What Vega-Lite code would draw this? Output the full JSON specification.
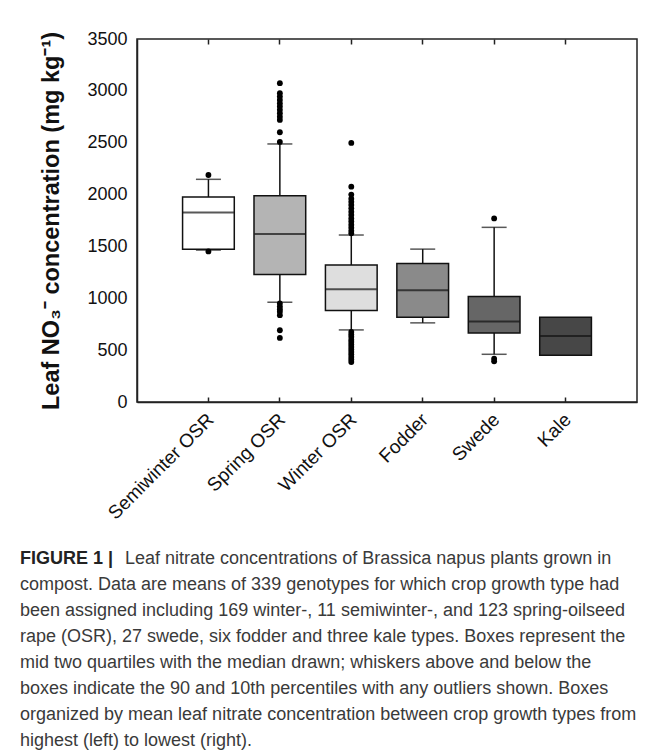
{
  "$schema": "https://vega.github.io/schema/vega-lite/v6.json",
  "width": 500,
  "height": 363,
  "autosize": "none",
  "padding": {"left": 137, "top": 39, "right": 18, "bottom": 352},
  "background": "white",
  "datasets": {
    "boxes": [
      {"type": "Semiwinter OSR", "lower": 1465, "q1": 1474, "median": 1828, "q3": 1976, "upper": 2147},
      {"type": "Spring OSR", "lower": 962, "q1": 1230, "median": 1619, "q3": 1989, "upper": 2488},
      {"type": "Winter OSR", "lower": 695, "q1": 882, "median": 1088, "q3": 1320, "upper": 1610},
      {"type": "Fodder", "lower": 763, "q1": 818, "median": 1078, "q3": 1336, "upper": 1474},
      {"type": "Swede", "lower": 460, "q1": 666, "median": 776, "q3": 1017, "upper": 1684},
      {"type": "Kale", "lower": null, "q1": 451, "median": 637, "q3": 818, "upper": null}
    ],
    "outliers": [
      {"type": "Semiwinter OSR", "value": 2189},
      {"type": "Semiwinter OSR", "value": 1452},
      {"type": "Spring OSR", "value": 3074},
      {"type": "Spring OSR", "value": 2978},
      {"type": "Spring OSR", "value": 2945},
      {"type": "Spring OSR", "value": 2913},
      {"type": "Spring OSR", "value": 2880},
      {"type": "Spring OSR", "value": 2850},
      {"type": "Spring OSR", "value": 2817},
      {"type": "Spring OSR", "value": 2785},
      {"type": "Spring OSR", "value": 2750},
      {"type": "Spring OSR", "value": 2720},
      {"type": "Spring OSR", "value": 2601},
      {"type": "Spring OSR", "value": 2508},
      {"type": "Spring OSR", "value": 950},
      {"type": "Spring OSR", "value": 920},
      {"type": "Spring OSR", "value": 895},
      {"type": "Spring OSR", "value": 870},
      {"type": "Spring OSR", "value": 837},
      {"type": "Spring OSR", "value": 692},
      {"type": "Spring OSR", "value": 618},
      {"type": "Winter OSR", "value": 2498},
      {"type": "Winter OSR", "value": 2076},
      {"type": "Winter OSR", "value": 2000},
      {"type": "Winter OSR", "value": 1960},
      {"type": "Winter OSR", "value": 1930},
      {"type": "Winter OSR", "value": 1900},
      {"type": "Winter OSR", "value": 1867},
      {"type": "Winter OSR", "value": 1835},
      {"type": "Winter OSR", "value": 1803},
      {"type": "Winter OSR", "value": 1770},
      {"type": "Winter OSR", "value": 1740},
      {"type": "Winter OSR", "value": 1710},
      {"type": "Winter OSR", "value": 1680},
      {"type": "Winter OSR", "value": 1650},
      {"type": "Winter OSR", "value": 1626},
      {"type": "Winter OSR", "value": 676},
      {"type": "Winter OSR", "value": 650},
      {"type": "Winter OSR", "value": 628},
      {"type": "Winter OSR", "value": 600},
      {"type": "Winter OSR", "value": 579},
      {"type": "Winter OSR", "value": 555},
      {"type": "Winter OSR", "value": 531},
      {"type": "Winter OSR", "value": 507},
      {"type": "Winter OSR", "value": 483},
      {"type": "Winter OSR", "value": 460},
      {"type": "Winter OSR", "value": 435},
      {"type": "Winter OSR", "value": 410},
      {"type": "Winter OSR", "value": 386},
      {"type": "Swede", "value": 1770},
      {"type": "Swede", "value": 418},
      {"type": "Swede", "value": 392}
    ]
  },
  "title": {
    "text": "FIGURE 1 |",
    "subtitle": [
      "\u200b\u00a0\u00a0\u00a0\u00a0\u00a0\u00a0\u00a0\u00a0\u00a0\u00a0\u00a0\u00a0\u00a0\u00a0\u00a0\u00a0\u00a0\u00a0\u00a0\u00a0\u00a0Leaf nitrate concentrations of Brassica napus plants grown in",
      "compost. Data are means of 339 genotypes for which crop growth type had",
      "been assigned including 169 winter-, 11 semiwinter-, and 123 spring-oilseed",
      "rape (OSR), 27 swede, six fodder and three kale types. Boxes represent the",
      "mid two quartiles with the median drawn; whiskers above and below the",
      "boxes indicate the 90 and 10th percentiles with any outliers shown. Boxes",
      "organized by mean leaf nitrate concentration between crop growth types from",
      "highest (left) to lowest (right)."
    ],
    "orient": "top",
    "anchor": "start",
    "frame": "group",
    "dx": -117,
    "offset": -720,
    "font": "Liberation Sans",
    "fontSize": 18,
    "fontWeight": "bold",
    "color": "#222222",
    "subtitleFont": "Liberation Sans",
    "subtitleFontSize": 18,
    "subtitleFontWeight": "normal",
    "subtitleColor": "#3a3a3a",
    "subtitleLineHeight": 26,
    "subtitlePadding": -18
  },
  "resolve": {"axis": {"x": "independent"}},
  "encoding": {
    "x": {
      "field": "type",
      "type": "nominal",
      "sort": ["Semiwinter OSR", "Spring OSR", "Winter OSR", "Fodder", "Swede", "Kale"],
      "scale": {"paddingInner": 0.276, "paddingOuter": 0.638}
    }
  },
  "layer": [
    {
      "data": {"name": "boxes"},
      "mark": {"type": "rule", "color": "#111111", "strokeWidth": 1.5},
      "encoding": {
        "x": {
          "field": "type",
          "type": "nominal",
          "sort": ["Semiwinter OSR", "Spring OSR", "Winter OSR", "Fodder", "Swede", "Kale"],
          "axis": {
            "orient": "bottom",
            "title": null,
            "labelAngle": -45,
            "labelFontSize": 19,
            "labelPadding": 13,
            "labelOffset": -4,
            "tickSize": -5
          }
        },
        "y": {
          "field": "lower",
          "type": "quantitative",
          "scale": {"domain": [0, 3500], "nice": false},
          "title": "Leaf NO\u2083\u207b concentration (mg kg\u207b\u00b9)",
          "axis": {
            "values": [0, 500, 1000, 1500, 2000, 2500, 3000, 3500],
            "format": "d",
            "ticks": false,
            "labelPadding": 10,
            "labelFontSize": 18,
            "titleFontSize": 23.5,
            "titleFontWeight": "bold",
            "titleColor": "#111111",
            "titlePadding": 23
          }
        },
        "y2": {"field": "upper"}
      }
    },
    {
      "data": {"name": "boxes"},
      "mark": {"type": "tick", "color": "#111111", "thickness": 1.5, "size": 25},
      "encoding": {
        "x": {"field": "type", "type": "nominal", "sort": ["Semiwinter OSR", "Spring OSR", "Winter OSR", "Fodder", "Swede", "Kale"], "axis": null},
        "y": {"field": "upper", "type": "quantitative", "title": "Leaf NO\u2083\u207b concentration (mg kg\u207b\u00b9)"}
      }
    },
    {
      "data": {"name": "boxes"},
      "mark": {"type": "tick", "color": "#111111", "thickness": 1.5, "size": 25},
      "encoding": {
        "x": {"field": "type", "type": "nominal", "sort": ["Semiwinter OSR", "Spring OSR", "Winter OSR", "Fodder", "Swede", "Kale"], "axis": null},
        "y": {"field": "lower", "type": "quantitative", "title": "Leaf NO\u2083\u207b concentration (mg kg\u207b\u00b9)"}
      }
    },
    {
      "data": {"name": "boxes"},
      "mark": {"type": "bar", "stroke": "#111111", "strokeWidth": 1.5},
      "encoding": {
        "x": {"field": "type", "type": "nominal", "sort": ["Semiwinter OSR", "Spring OSR", "Winter OSR", "Fodder", "Swede", "Kale"], "axis": null},
        "y": {"field": "q1", "type": "quantitative", "title": "Leaf NO\u2083\u207b concentration (mg kg\u207b\u00b9)"},
        "y2": {"field": "q3"},
        "fill": {
          "field": "type",
          "type": "nominal",
          "scale": {
            "domain": ["Semiwinter OSR", "Spring OSR", "Winter OSR", "Fodder", "Swede", "Kale"],
            "range": ["#ffffff", "#b4b4b4", "#dedede", "#8a8a8a", "#666666", "#474747"]
          },
          "legend": null
        }
      }
    },
    {
      "data": {"name": "boxes"},
      "mark": {"type": "tick", "color": "#111111", "thickness": 2, "size": 51},
      "encoding": {
        "x": {"field": "type", "type": "nominal", "sort": ["Semiwinter OSR", "Spring OSR", "Winter OSR", "Fodder", "Swede", "Kale"], "axis": null},
        "y": {"field": "median", "type": "quantitative", "title": "Leaf NO\u2083\u207b concentration (mg kg\u207b\u00b9)"}
      }
    },
    {
      "data": {"name": "outliers"},
      "mark": {"type": "point", "filled": true, "color": "#000000", "opacity": 1, "size": 34},
      "encoding": {
        "x": {
          "field": "type",
          "type": "nominal",
          "sort": ["Semiwinter OSR", "Spring OSR", "Winter OSR", "Fodder", "Swede", "Kale"],
          "axis": {"orient": "top", "title": null, "labels": false, "tickSize": -5, "domain": false}
        },
        "y": {"field": "value", "type": "quantitative", "title": "Leaf NO\u2083\u207b concentration (mg kg\u207b\u00b9)"}
      }
    }
  ],
  "config": {
    "view": {"stroke": "#222222", "strokeWidth": 1.5},
    "axis": {
      "grid": false,
      "domainColor": "#222222",
      "domainWidth": 1.5,
      "tickColor": "#222222",
      "tickWidth": 1.5,
      "labelColor": "#111111",
      "labelFont": "Liberation Sans",
      "titleFont": "Liberation Sans"
    }
  }
}
